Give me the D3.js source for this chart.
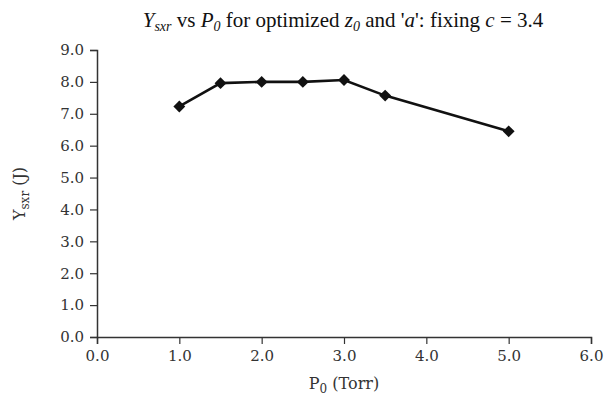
<!DOCTYPE html>
<html>
<head>
<meta charset="utf-8">
<script src="https://cdn.jsdelivr.net/npm/d3@7"></script>
<style>
  body { margin: 0; background: #fff; }
  svg text { font-family: "DejaVu Serif", "Liberation Serif", serif; }
</style>
</head>
<body>
<svg id="chart" width="609" height="400"></svg>
<script>
const pressure = [1.0, 1.5, 2.0, 2.5, 3.0, 3.5, 5.0];
const yieldSxr = [7.23, 7.96, 8.0, 8.0, 8.06, 7.57, 6.45];
const xTicks = [0, 1, 2, 3, 4, 5, 6];
const yTicks = [0, 1, 2, 3, 4, 5, 6, 7, 8, 9];

const margin = {left: 97, right: 18, top: 50, bottom: 63};
const width = 609, height = 400;

const svg = d3.select("#chart");

const x = d3.scaleLinear().domain([0, 6]).range([margin.left, width - margin.right]);
const y = d3.scaleLinear().domain([0, 9]).range([height - margin.bottom, margin.top]);

// axes
const xAxis = svg.append("g")
    .attr("transform", `translate(0,${y(0)})`)
    .call(d3.axisBottom(x).tickValues(xTicks).tickFormat(d3.format(".1f")).tickSize(7).tickPadding(6));
const yAxis = svg.append("g")
    .attr("transform", `translate(${x(0)},0)`)
    .call(d3.axisLeft(y).tickValues(yTicks).tickFormat(d3.format(".1f")).tickSize(7).tickPadding(6));

[xAxis, yAxis].forEach(g => {
  g.select(".domain").attr("stroke", "#333").attr("stroke-width", 1.5);
  g.selectAll(".tick line").attr("stroke", "#333").attr("stroke-width", 1.2);
  g.selectAll(".tick text")
    .attr("fill", "#333")
    .style("font-family", "'DejaVu Serif', serif")
    .style("font-size", "15px");
});

// line + markers
const line = d3.line().x((d, i) => x(pressure[i])).y(d => y(d));
svg.append("path")
    .datum(yieldSxr)
    .attr("d", line)
    .attr("fill", "none")
    .attr("stroke", "#111")
    .attr("stroke-width", 2.6);

svg.append("g").selectAll("path")
    .data(yieldSxr).enter()
  .append("path")
    .attr("d", d3.symbol(d3.symbolDiamond2, 90))
    .attr("transform", (d, i) => `translate(${x(pressure[i])},${y(d)})`)
    .attr("fill", "#111");

// title
const title = svg.append("text")
    .attr("x", 343).attr("y", 27)
    .attr("text-anchor", "middle")
    .style("font-family", "'Liberation Serif', serif")
    .style("font-size", "21px")
    .attr("fill", "#111");
const parts = [
  ["Y", "i"], ["sxr", "is"], [" vs ", ""], ["P", "i"], ["0", "is"],
  [" for optimized ", ""], ["z", "i"], ["0", "is"], [" and '", ""], ["a", "i"],
  ["': fixing ", ""], ["c", "i"], [" = 3.4", ""]
];
let sub = false;
parts.forEach(([t, s]) => {
  const ts = title.append("tspan").text(t);
  if (s.includes("i")) ts.style("font-style", "italic");
  if (s.includes("s")) {
    ts.style("font-size", "14px").attr("dy", sub ? 0 : 4);
    sub = true;
  } else if (sub) {
    ts.attr("dy", -4);
    sub = false;
  }
});

// x label
const xl = svg.append("text")
    .attr("x", x(3)).attr("y", 389)
    .attr("text-anchor", "middle")
    .style("font-family", "'DejaVu Serif', serif")
    .style("font-size", "16px")
    .attr("fill", "#333");
xl.append("tspan").text("P");
xl.append("tspan").text("0").style("font-size", "12px").attr("dy", 4);
xl.append("tspan").text(" (Torr)").attr("dy", -4);

// y label
const yl = svg.append("text")
    .attr("transform", `translate(25,${y(4.5)}) rotate(-90)`)
    .attr("text-anchor", "middle")
    .style("font-family", "'DejaVu Serif', serif")
    .style("font-size", "16px")
    .attr("fill", "#333");
yl.append("tspan").text("Y");
yl.append("tspan").text("sxr").style("font-size", "12px").attr("dy", 4);
yl.append("tspan").text(" (J)").attr("dy", -4);
</script>
</body>
</html>
